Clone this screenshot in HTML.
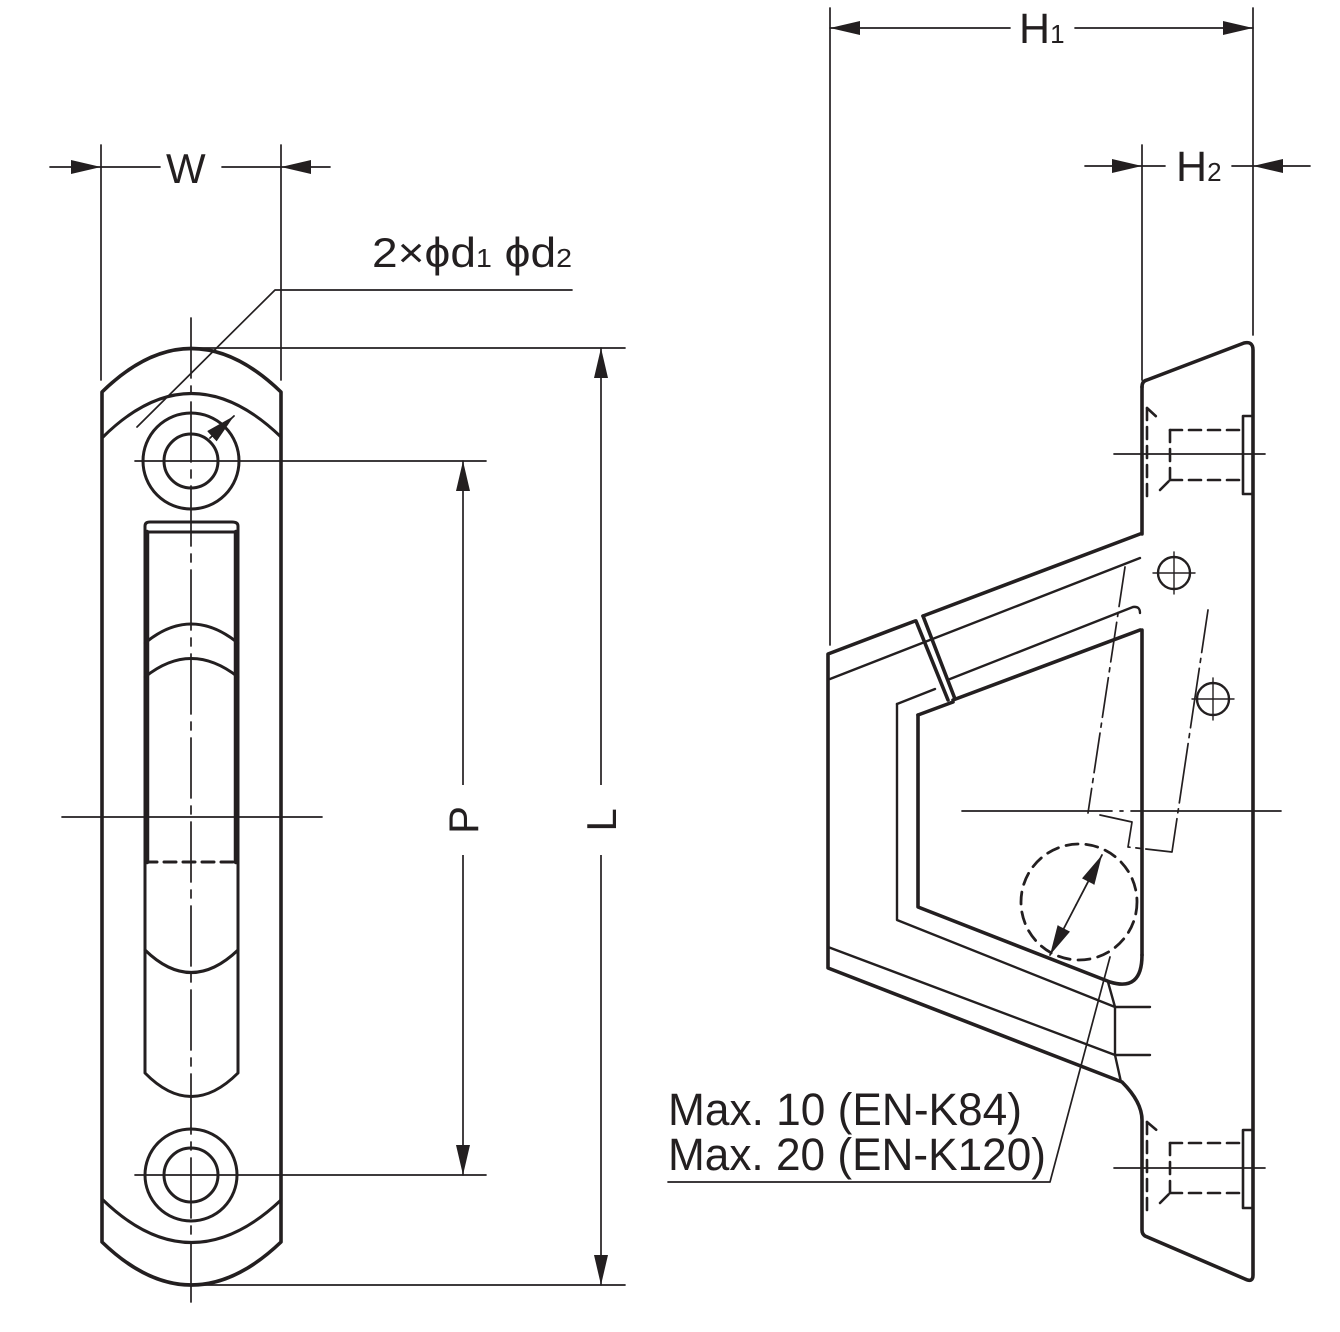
<!DOCTYPE html>
<html><head><meta charset="utf-8"><style>
html,body{margin:0;padding:0;background:#fff;}
svg{display:block;}
text{font-family:"Liberation Sans",Arial,sans-serif;fill:#231f20;}
</style></head><body>
<svg width="1340" height="1332" viewBox="0 0 1340 1332" xmlns="http://www.w3.org/2000/svg">
<defs>
<marker id="a" viewBox="0 0 30 14" refX="30" refY="7" markerWidth="30" markerHeight="14" markerUnits="userSpaceOnUse" orient="auto"><path d="M0,0 L30,7 L0,14 Z" fill="#231f20"/></marker>
</defs>
<g stroke="#231f20" fill="none" stroke-linecap="round" stroke-linejoin="round">
<g stroke-width="1.7">
<line x1="101" y1="145" x2="101" y2="380"/>
<line x1="281" y1="145" x2="281" y2="380"/>
<line x1="50" y1="167" x2="101" y2="167" marker-end="url(#a)"/>
<line x1="330" y1="167" x2="281" y2="167" marker-end="url(#a)"/>
<line x1="101" y1="167" x2="160" y2="167"/>
<line x1="222" y1="167" x2="281" y2="167"/>
<polyline points="137,427 275,290 572,290"/>
<line x1="191" y1="348" x2="625" y2="348"/>
<line x1="191" y1="1285" x2="625" y2="1285"/>
<line x1="601" y1="820" x2="601" y2="348" marker-end="url(#a)"/>
<line x1="601" y1="820" x2="601" y2="1285" marker-end="url(#a)"/>
<line x1="135" y1="461" x2="486" y2="461"/>
<line x1="135" y1="1175" x2="486" y2="1175"/>
<line x1="463" y1="820" x2="463" y2="461" marker-end="url(#a)"/>
<line x1="463" y1="820" x2="463" y2="1175" marker-end="url(#a)"/>
<line x1="191" y1="318" x2="191" y2="1310" stroke-dasharray="60,8,8,8"/>
<line x1="62" y1="817" x2="322" y2="817"/>
</g>
<rect x="430" y="785" width="66" height="70" fill="#fff" stroke="none"/>
<rect x="570" y="785" width="62" height="70" fill="#fff" stroke="none"/>
<g stroke-width="3.6">
<path d="M102,392 Q191,305 281,392 L281,1242 Q191,1328 102,1242 Z"/>
</g>
<g stroke-width="3">
<path d="M103,437 Q191,350 281,437"/>
<path d="M103,1200 Q191,1285 281,1200"/>
<circle cx="191" cy="461" r="48"/>
<circle cx="191" cy="461" r="27"/>
<circle cx="191" cy="1175" r="46"/>
<circle cx="191" cy="1175" r="27"/>
<path d="M145,1073 L145,526 Q145,522 150,522 L232,522 Q238,522 238,526 L238,1073 Q191,1120 145,1073 Z"/>
<line x1="145" y1="532" x2="238" y2="532"/>
<path d="M145,643 Q191,605 238,643"/>
<path d="M145,677 Q191,640 238,677"/>
<path d="M145,950 Q191,995 238,950"/>
<line x1="147" y1="532" x2="147" y2="862" stroke-width="4.5"/>
<line x1="236" y1="532" x2="236" y2="862" stroke-width="4.5"/>
<line x1="145" y1="862" x2="238" y2="862" stroke-dasharray="12,7"/>
</g>
<line x1="210" y1="438" x2="234" y2="416" stroke-width="1.8" marker-end="url(#a)"/>

<g stroke-width="1.7">
<line x1="830" y1="8" x2="830" y2="645"/>
<line x1="1253" y1="8" x2="1253" y2="335"/>
<line x1="1010" y1="28" x2="830" y2="28" marker-end="url(#a)"/>
<line x1="1075" y1="28" x2="1253" y2="28" marker-end="url(#a)"/>
<line x1="1142" y1="145" x2="1142" y2="380"/>
<line x1="1085" y1="166" x2="1142" y2="166" marker-end="url(#a)"/>
<line x1="1310" y1="166" x2="1253" y2="166" marker-end="url(#a)"/>
<line x1="1142" y1="166" x2="1165" y2="166"/>
<line x1="1232" y1="166" x2="1253" y2="166"/>
<line x1="1114" y1="454" x2="1265" y2="454"/>
<line x1="1114" y1="1168" x2="1265" y2="1168"/>
<line x1="962" y1="811" x2="1285" y2="811" stroke-dasharray="150,8,3,8"/>
<polyline points="1110,957 1050,1182 668,1182"/>
<polyline points="1125,567 1088,813" stroke-dasharray="40,6,4,6"/>
<polyline points="1100,815 1132,822 1128,847 1172,852 1208,610" stroke-dasharray="60,6,4,6"/>
</g>
<g stroke-width="3.6">
<path d="M1142,387 L1142,534"/>
<path d="M1142,387 Q1142,381 1147,380 L1244,343 Q1253,341 1253,350 L1253,1275 Q1253,1283 1245,1279 L1145,1236 Q1142,1234 1142,1230 L1142,1120 Q1142,1102 1122,1082 L828,968 L828,654 L915,621"/>
<path d="M923,616 L1140,534"/>
<path d="M1142,955 L1142,630"/>
<path d="M953,700 L1140,630"/>
<path d="M918,715 L953,702"/>
<path d="M918,715 L918,907 L1110,982 Q1142,992 1142,955"/>
<line x1="916" y1="621" x2="948" y2="700"/>
<line x1="923" y1="616" x2="955" y2="699"/>
</g>
<g stroke-width="2.4">
<line x1="830" y1="679" x2="1140" y2="558"/>
<path d="M950,679 L1133,607 Q1140,606 1140,613"/>
<path d="M897,704 L935,689"/>
<path d="M897,704 L897,920 L1115,1007"/>
<line x1="828" y1="947" x2="1115" y2="1055"/>
<line x1="1115" y1="1007" x2="1150" y2="1007"/>
<line x1="1115" y1="1055" x2="1150" y2="1055"/>
<line x1="1115" y1="1007" x2="1115" y2="1055"/>
<line x1="1108" y1="982" x2="1115" y2="1007"/>
<line x1="1115" y1="1055" x2="1121" y2="1082"/>
<circle cx="1174" cy="573" r="16"/>
<circle cx="1213" cy="699" r="16"/>
</g>
<g stroke-width="1.4">
<line x1="1174" y1="552" x2="1174" y2="594"/><line x1="1153" y1="573" x2="1195" y2="573"/>
<line x1="1213" y1="678" x2="1213" y2="720"/><line x1="1192" y1="699" x2="1234" y2="699"/>
</g>
<g stroke-width="2.6" stroke-dasharray="12,7">
<line x1="1147" y1="408" x2="1147" y2="502"/>
<polyline points="1147,408 1160,420"/>
<line x1="1160" y1="490" x2="1170" y2="480"/>
<line x1="1170" y1="430" x2="1243" y2="430"/>
<line x1="1170" y1="480" x2="1243" y2="480"/>
<line x1="1170" y1="430" x2="1170" y2="480"/>
<line x1="1147" y1="1122" x2="1147" y2="1215"/>
<line x1="1147" y1="1122" x2="1160" y2="1133"/>
<line x1="1160" y1="1203" x2="1170" y2="1193"/>
<line x1="1170" y1="1143" x2="1243" y2="1143"/>
<line x1="1170" y1="1193" x2="1243" y2="1193"/>
<line x1="1170" y1="1143" x2="1170" y2="1193"/>
</g>
<g stroke-width="2.6">
<polyline points="1253,416 1243,416 1243,494 1253,494"/>
<polyline points="1253,1130 1243,1130 1243,1208 1253,1208"/>
</g>
<circle cx="1079" cy="902" r="58" stroke-width="2.8" stroke-dasharray="12,8"/>
<line x1="1076" y1="905" x2="1102" y2="855" stroke-width="1.8" marker-end="url(#a)"/>
<line x1="1076" y1="905" x2="1050" y2="955" stroke-width="1.8" marker-end="url(#a)"/>
</g>
<text x="166" y="183" font-size="42">W</text>
<text x="372" y="267" font-size="42" textLength="200" lengthAdjust="spacingAndGlyphs">2×ϕd<tspan font-size="26">1</tspan> ϕd<tspan font-size="26">2</tspan></text>
<text transform="translate(478,820) rotate(-90)" font-size="42" text-anchor="middle">P</text>
<text transform="translate(616,820) rotate(-90)" font-size="42" text-anchor="middle">L</text>
<text x="1019" y="43" font-size="43">H<tspan font-size="26">1</tspan></text>
<text x="1176" y="181" font-size="43">H<tspan font-size="26">2</tspan></text>
<text x="668" y="1125" font-size="45" textLength="354" lengthAdjust="spacingAndGlyphs">Max. 10 (EN-K84)</text>
<text x="668" y="1170" font-size="45" textLength="378" lengthAdjust="spacingAndGlyphs">Max. 20 (EN-K120)</text>
</svg>
</body></html>
